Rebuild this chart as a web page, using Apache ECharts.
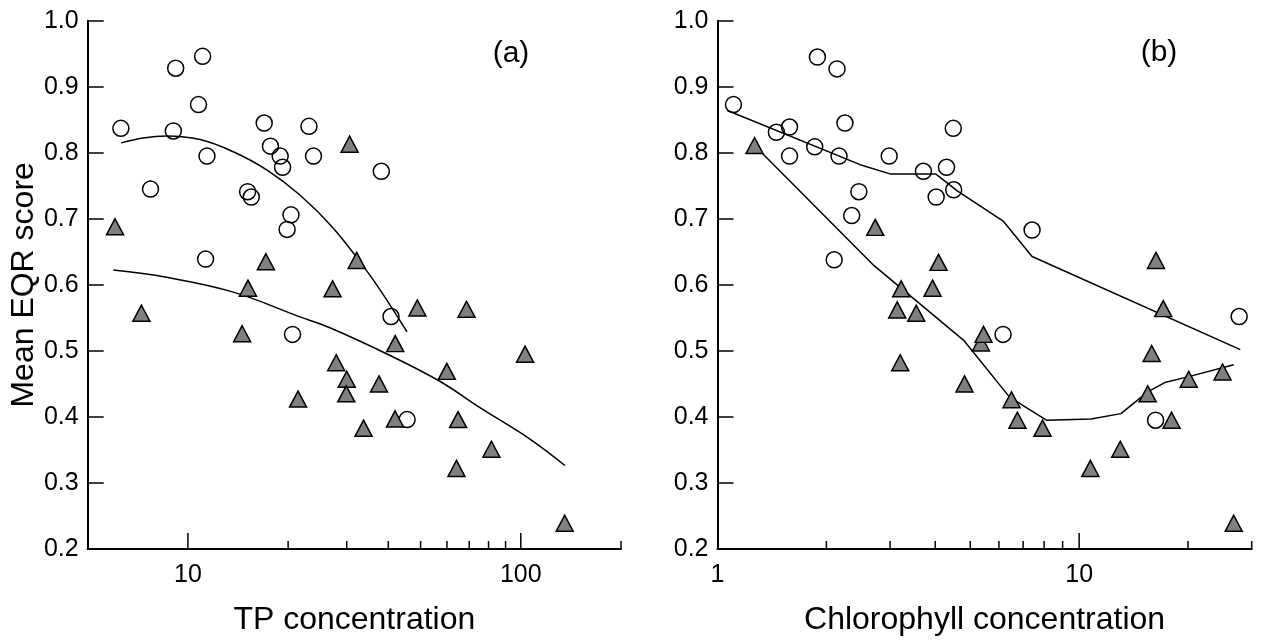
<!DOCTYPE html>
<html>
<head>
<meta charset="utf-8">
<script src="https://cdn.jsdelivr.net/npm/echarts@6/dist/echarts.min.js"></script>
<style>
html,body{margin:0;padding:0;background:#fff;}
#c{width:1264px;height:641px;}
</style>
</head>
<body>
<div id="c"></div>
<script>
// ---------- Panel (a): TP concentration ----------
const tpCircleX = [6.29, 7.72, 9.19, 9.04, 11.07, 10.76, 11.41, 11.30, 15.11, 15.50, 16.95, 17.70, 18.93, 19.25, 20.40, 19.86, 20.62, 23.10, 23.84, 38.10, 40.75, 45.55];
const tpCircleY = [0.837, 0.745, 0.928, 0.833, 0.946, 0.873, 0.795, 0.639, 0.741, 0.733, 0.845, 0.810, 0.795, 0.778, 0.706, 0.684, 0.525, 0.840, 0.795, 0.772, 0.552, 0.396];

const tpTriX = [6.04, 7.25, 14.55, 15.15, 17.15, 21.42, 27.2, 27.9, 30.0, 29.9, 30.6, 32.15, 33.7, 37.5, 41.9, 41.95, 48.9, 59.95, 64.8, 64.1, 68.7, 81.6, 103, 135.5];
const tpTriY = [0.688, 0.557, 0.526, 0.595, 0.635, 0.427, 0.594, 0.482, 0.457, 0.435, 0.813, 0.637, 0.383, 0.450, 0.397, 0.511, 0.565, 0.469, 0.396, 0.322, 0.563, 0.351, 0.495, 0.239];

const tpCircleFitX = [6.30, 7.34, 8.63, 10.88, 13.69, 17.25, 21.7, 27.3, 34.4, 39.1, 45.5];
const tpCircleFitY = [0.815, 0.8225, 0.8255, 0.820, 0.8015, 0.774, 0.736, 0.686, 0.6215, 0.581, 0.529];

const tpTriFitX = [5.97, 8.63, 13.69, 21.7, 26.7, 40.5, 57.1, 75.4, 106.5, 135.7];
const tpTriFitY = [0.6224, 0.6114, 0.589, 0.5515, 0.535, 0.493, 0.454, 0.414, 0.3665, 0.3264];

// ---------- Panel (b): Chlorophyll concentration ----------
const chlCircleX = [1.107, 1.455, 1.582, 1.582, 1.889, 1.857, 2.14, 2.168, 2.102, 2.251, 2.35, 2.46, 2.984, 3.71, 4.024, 4.298, 4.487, 4.499, 6.16, 7.41, 16.27, 27.7];
const chlCircleY = [0.873, 0.831, 0.839, 0.795, 0.945, 0.809, 0.927, 0.795, 0.638, 0.845, 0.705, 0.741, 0.795, 0.772, 0.733, 0.778, 0.837, 0.744, 0.525, 0.683, 0.395, 0.552];

const chlTriX = [1.266, 2.73, 3.22, 3.14, 3.20, 3.545, 3.933, 4.085, 4.82, 5.35, 5.44, 6.5, 6.75, 7.92, 10.74, 12.99, 15.47, 15.87, 16.31, 17.08, 18.01, 20.09, 24.92, 26.75];
const chlTriY = [0.811, 0.687, 0.594, 0.562, 0.482, 0.557, 0.595, 0.634, 0.450, 0.512, 0.525, 0.426, 0.395, 0.383, 0.322, 0.351, 0.435, 0.496, 0.637, 0.564, 0.395, 0.457, 0.468, 0.239];

const chlCircleFitX = [1.065, 2.48, 3.0, 4.01, 4.614, 6.18, 7.41, 27.9];
const chlCircleFitY = [0.864, 0.782, 0.768, 0.768, 0.742, 0.696, 0.643, 0.502];

const chlTriFitX = [1.266, 2.71, 4.795, 6.42, 8.12, 10.79, 13.05, 15.47, 17.25, 20.09, 26.75];
const chlTriFitY = [0.811, 0.629, 0.516, 0.430, 0.395, 0.397, 0.405, 0.438, 0.452, 0.461, 0.479];

// ---------- Axes ----------
const yMin = 0.2, yMax = 1.0, yStep = 0.1;
const tpRange = [5, 200];
const chlRange = [1, 30];
const tpLabels = [10, 100];
const chlLabels = [1, 10];
const tpMajorTicks = [10, 100];
const tpMinorTicks = [20, 30, 40, 50, 60, 70, 80, 90, 200];
const chlMajorTicks = [10];
const chlMinorTicks = [2, 3, 4, 5, 6, 7, 8, 9, 20, 30];
const titles = ['(a)', '(b)'];
const xNames = ['TP concentration', 'Chlorophyll concentration'];
const yName = 'Mean EQR score';

const FONT = '"Liberation Sans", Arial, Helvetica, sans-serif';
const zip = (xs, ys) => xs.map((x, i) => [x, ys[i]]);

function xAxisCfg(gi, range, labels, name) {
  return {
    type: 'log', logBase: 10, gridIndex: gi, min: range[0], max: range[1],
    name: name, nameLocation: 'middle', nameGap: 55,
    nameTextStyle: { fontSize: 32, fontFamily: FONT, color: '#000' },
    axisLine: { show: true, lineStyle: { color: '#000', width: 2 } },
    axisTick: { show: false },
    splitLine: { show: false },
    minorTick: { show: false },
    axisLabel: {
      show: true, fontSize: 25, fontFamily: FONT, color: '#000', margin: 14,
      showMinLabel: true, showMaxLabel: true,
      formatter: v => labels.some(l => Math.abs(l - v) < 1e-6 * l) ? String(Math.round(v)) : ''
    }
  };
}
function yAxisCfg(gi, withName) {
  return {
    type: 'value', gridIndex: gi, min: yMin, max: yMax, interval: yStep,
    name: withName ? yName : '', nameLocation: 'middle', nameGap: 48,
    nameTextStyle: { fontSize: 32, fontFamily: FONT, color: '#000' },
    axisLine: { show: true, lineStyle: { color: '#000', width: 2 } },
    axisTick: { show: true, inside: true, length: 16, lineStyle: { color: '#000', width: 1.5 } },
    splitLine: { show: false },
    axisLabel: { fontSize: 25, fontFamily: FONT, color: '#000', margin: 9, formatter: v => v.toFixed(1) }
  };
}
function tickSeries(ai, values, len) {
  return {
    type: 'custom', xAxisIndex: ai, yAxisIndex: ai, silent: true, clip: false, z: 6,
    data: values.map(v => [v, yMin]),
    renderItem: (params, api) => {
      const p = api.coord([api.value(0), api.value(1)]);
      return { type: 'line', shape: { x1: p[0], y1: p[1], x2: p[0], y2: p[1] - len },
               style: { stroke: '#000', lineWidth: 1.5 } };
    }
  };
}
function circleSeries(ai, data) {
  return { type: 'scatter', xAxisIndex: ai, yAxisIndex: ai, data: data, symbol: 'circle', symbolSize: 16, z: 2,
    itemStyle: { color: 'rgba(0,0,0,0)', borderColor: '#000', borderWidth: 1.5, opacity: 1 } };
}
function triSeries(ai, data) {
  return { type: 'scatter', xAxisIndex: ai, yAxisIndex: ai, data: data, symbol: 'triangle', symbolSize: [17, 16], z: 4,
    itemStyle: { color: '#808080', borderColor: '#000', borderWidth: 1.5, opacity: 1 } };
}
function lineSeries(ai, data, smooth) {
  return { type: 'line', xAxisIndex: ai, yAxisIndex: ai, data: data, symbol: 'none', smooth: smooth, z: 3,
    lineStyle: { color: '#000', width: 1.5 } };
}

const chart = echarts.init(document.getElementById('c'), null, { renderer: 'canvas' });
chart.setOption({
  animation: false,
  backgroundColor: '#fff',
  textStyle: { fontFamily: FONT },
  grid: [
    { left: 87.7, right: 643, top: 20.7, bottom: 86.7 },
    { left: 717.5, right: 12.3, top: 20.7, bottom: 86.7 }
  ],
  xAxis: [xAxisCfg(0, tpRange, tpLabels, xNames[0]), xAxisCfg(1, chlRange, chlLabels, xNames[1])],
  yAxis: [yAxisCfg(0, true), yAxisCfg(1, false)],
  graphic: [
    { type: 'text', x: 511, y: 54, style: { text: titles[0], fontSize: 30, fontFamily: FONT, fill: '#000', align: 'center', verticalAlign: 'middle' } },
    { type: 'text', x: 1159, y: 53, style: { text: titles[1], fontSize: 30, fontFamily: FONT, fill: '#000', align: 'center', verticalAlign: 'middle' } }
  ],
  series: [
    lineSeries(0, zip(tpCircleFitX, tpCircleFitY), 0.4),
    lineSeries(0, zip(tpTriFitX, tpTriFitY), 0.4),
    circleSeries(0, zip(tpCircleX, tpCircleY)),
    triSeries(0, zip(tpTriX, tpTriY)),
    tickSeries(0, tpMajorTicks, 16),
    tickSeries(0, tpMinorTicks, 8),
    lineSeries(1, zip(chlCircleFitX, chlCircleFitY), false),
    lineSeries(1, zip(chlTriFitX, chlTriFitY), false),
    circleSeries(1, zip(chlCircleX, chlCircleY)),
    triSeries(1, zip(chlTriX, chlTriY)),
    tickSeries(1, chlMajorTicks, 16),
    tickSeries(1, chlMinorTicks, 8)
  ]
});
</script>
</body>
</html>
